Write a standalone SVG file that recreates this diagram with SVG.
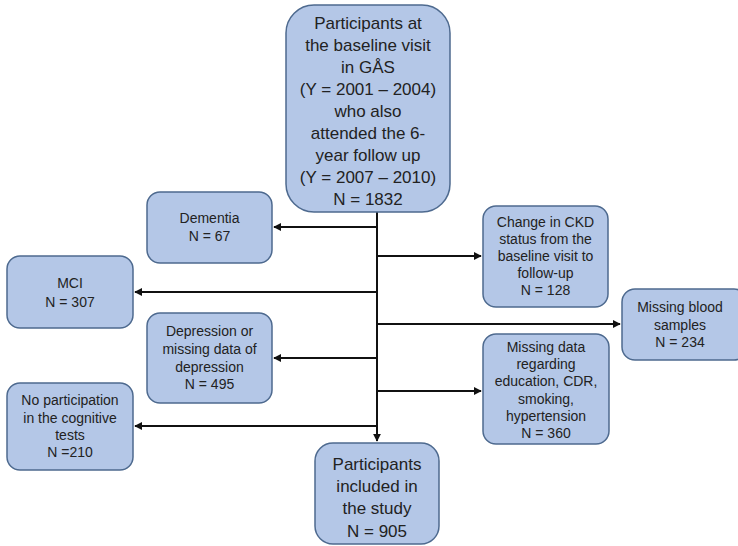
<svg xmlns="http://www.w3.org/2000/svg" width="738" height="546" viewBox="0 0 738 546">
<defs>
<style>
.box{fill:#b4c7e7;stroke:#4e6a8f;stroke-width:1.5}
.t{font-family:"Liberation Sans",Arial,sans-serif;fill:#222;text-anchor:middle}
.big{font-size:17px}
.sm{font-size:14px}
.ln{stroke:#111;stroke-width:2;fill:none}
</style>
<marker id="ah" viewBox="0 0 10 10" refX="9" refY="5" markerWidth="4" markerHeight="4" orient="auto">
<path d="M0,0 L10,5 L0,10 z" fill="#111"/>
</marker>
</defs>
<rect width="738" height="546" fill="#fff"/>
<g id="connectors">
<line class="ln" x1="377" y1="212" x2="377" y2="441" marker-end="url(#ah)"/>
<line class="ln" x1="377" y1="227" x2="274" y2="227" marker-end="url(#ah)"/>
<line class="ln" x1="377" y1="292" x2="135" y2="292" marker-end="url(#ah)"/>
<line class="ln" x1="377" y1="358" x2="274" y2="358" marker-end="url(#ah)"/>
<line class="ln" x1="377" y1="426" x2="135" y2="426" marker-end="url(#ah)"/>
<line class="ln" x1="377" y1="256" x2="481" y2="256" marker-end="url(#ah)"/>
<line class="ln" x1="377" y1="324" x2="620" y2="324" marker-end="url(#ah)"/>
<line class="ln" x1="377" y1="391" x2="481" y2="391" marker-end="url(#ah)"/>
</g>
<g id="top">
<rect class="box" x="286" y="5" width="164" height="207" rx="28"/>
<text class="t big"><tspan x="368" y="29">Participants at</tspan><tspan x="368" y="51">the baseline visit</tspan><tspan x="368" y="73">in GÅS</tspan><tspan x="368" y="95">(Y = 2001 – 2004)</tspan><tspan x="368" y="117">who also</tspan><tspan x="368" y="139">attended the 6-</tspan><tspan x="368" y="161">year follow up</tspan><tspan x="368" y="183">(Y = 2007 – 2010)</tspan><tspan x="368" y="205">N = 1832</tspan></text>
</g>
<g id="dementia">
<rect class="box" x="147" y="192" width="125" height="71" rx="13"/>
<text class="t sm"><tspan x="209.5" y="223">Dementia</tspan><tspan x="209.5" y="241">N = 67</tspan></text>
</g>
<g id="mci">
<rect class="box" x="7" y="256" width="126" height="72" rx="13"/>
<text class="t sm"><tspan x="70" y="288">MCI</tspan><tspan x="70" y="307">N = 307</tspan></text>
</g>
<g id="depression">
<rect class="box" x="147" y="313" width="125" height="90" rx="13"/>
<text class="t sm"><tspan x="209.5" y="336">Depression or</tspan><tspan x="209.5" y="354">missing data of</tspan><tspan x="209.5" y="372">depression</tspan><tspan x="209.5" y="389">N = 495</tspan></text>
</g>
<g id="noparticipation">
<rect class="box" x="7" y="383" width="126" height="87" rx="13"/>
<text class="t sm"><tspan x="70" y="405">No participation</tspan><tspan x="70" y="423">in the cognitive</tspan><tspan x="70" y="440">tests</tspan><tspan x="70" y="457">N =210</tspan></text>
</g>
<g id="ckd">
<rect class="box" x="483" y="206" width="125" height="101" rx="13"/>
<text class="t sm"><tspan x="545.5" y="227">Change in CKD</tspan><tspan x="545.5" y="244">status from the</tspan><tspan x="545.5" y="261">baseline visit to</tspan><tspan x="545.5" y="278">follow-up</tspan><tspan x="545.5" y="295">N = 128</tspan></text>
</g>
<g id="blood">
<rect class="box" x="622" y="289" width="125" height="71" rx="13"/>
<text class="t sm"><tspan x="680" y="312">Missing blood</tspan><tspan x="680" y="330">samples</tspan><tspan x="680" y="347">N = 234</tspan></text>
</g>
<g id="missingdata">
<rect class="box" x="483" y="334" width="126" height="110" rx="13"/>
<text class="t sm"><tspan x="546" y="352">Missing data</tspan><tspan x="546" y="369">regarding</tspan><tspan x="546" y="386">education, CDR,</tspan><tspan x="546" y="404">smoking,</tspan><tspan x="546" y="421">hypertension</tspan><tspan x="546" y="438">N = 360</tspan></text>
</g>
<g id="included">
<rect class="box" x="315" y="443" width="124" height="101" rx="18"/>
<text class="t big"><tspan x="377" y="470">Participants</tspan><tspan x="377" y="492">included in</tspan><tspan x="377" y="514">the study</tspan><tspan x="377" y="537">N = 905</tspan></text>
</g>
</svg>
